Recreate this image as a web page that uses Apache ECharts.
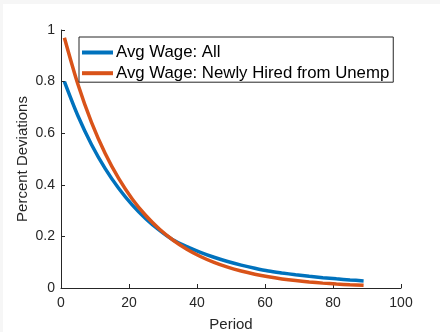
<!DOCTYPE html>
<html>
<head>
<meta charset="utf-8">
<script src="https://cdn.jsdelivr.net/npm/echarts@6/dist/echarts.min.js"></script>
<style>
html,body{margin:0;padding:0;background:#fff;}
#chart{width:440px;height:332px;}
</style>
</head>
<body>
<div id="chart"></div>
<script>
const periods = [1,5,9,13,17,21,25,29,33,37,41,45,49,53,57,61,65,69,73,77,81,85,89];
const avgWageAll = [0.800,0.6667,0.5555,0.4629,0.3858,0.3215,0.2679,0.2232,0.1860,0.1604,0.1384,0.1193,0.1029,0.0888,0.0766,0.0660,0.0583,0.0515,0.0455,0.0401,0.0354,0.0313,0.0276];
const avgWageNew = [0.970,0.7885,0.6410,0.5211,0.4236,0.3443,0.2799,0.2275,0.1850,0.1504,0.1222,0.0994,0.0808,0.0657,0.0534,0.0434,0.0353,0.0287,0.0233,0.0189,0.0154,0.0125,0.0102];
const seriesNames = ['Avg Wage: All','Avg Wage: Newly Hired from Unemp'];
const xTicks = [0,20,40,60,80,100];
const yTicks = [0,0.2,0.4,0.6,0.8,1];

const chart = echarts.init(document.getElementById('chart'));
const axisColor = '#262626';
const font = 'Liberation Sans, Arial, Helvetica, sans-serif';
function pairs(ys){ return periods.map((p,i)=>[p, ys[i]]); }

chart.setOption({
  backgroundColor:'#ffffff',
  animation:false,
  graphic:[
    {type:'rect', shape:{x:0,y:0,width:440,height:4}, style:{fill:'#f6f6f6'}, silent:true},
    {type:'rect', shape:{x:0,y:0,width:3,height:332}, style:{fill:'#f6f6f6'}, silent:true}
  ],
  grid:{left:61, top:30, width:340, height:258, containLabel:false, outerBoundsMode:'none'},
  legend:{
    orient:'vertical', left:79, top:37,
    padding:[6.5,4,0,3], itemGap:2.7,
    backgroundColor:'#ffffff', borderColor:'#262626', borderWidth:1,
    icon:'rect', itemWidth:31, itemHeight:4,
    textStyle:{fontFamily:font, fontSize:16.8, color:'#000', lineHeight:18, padding:[0,0,0,-2]},
    data:seriesNames
  },
  xAxis:{
    type:'value', min:xTicks[0], max:xTicks[xTicks.length-1], interval:20,
    name:'Period', nameLocation:'middle', nameGap:29, nameMoveOverlap:false,
    nameTextStyle:{fontFamily:font, fontSize:15, color:axisColor},
    axisLine:{show:true, onZero:false, lineStyle:{color:axisColor, width:1}},
    axisTick:{show:true, inside:true, length:4, lineStyle:{color:axisColor}},
    axisLabel:{fontFamily:font, fontSize:14, color:axisColor, margin:8},
    splitLine:{show:false}
  },
  yAxis:{
    type:'value', min:yTicks[0], max:yTicks[yTicks.length-1], interval:0.2,
    name:'Percent Deviations', nameLocation:'middle', nameGap:31, nameRotate:90, nameMoveOverlap:false,
    nameTextStyle:{fontFamily:font, fontSize:15, color:axisColor},
    axisLine:{show:true, onZero:false, lineStyle:{color:axisColor, width:1}},
    axisTick:{show:true, inside:true, length:4, lineStyle:{color:axisColor}},
    axisLabel:{fontFamily:font, fontSize:14, color:axisColor, margin:6},
    splitLine:{show:false}
  },
  series:[
    {name:seriesNames[0], type:'line', data:pairs(avgWageAll), smooth:0.3, showSymbol:false, symbol:'none',
     color:'#0072BD', lineStyle:{width:3.5, color:'#0072BD'}, z:2},
    {name:seriesNames[1], type:'line', data:pairs(avgWageNew), smooth:0.3, showSymbol:false, symbol:'none',
     color:'#D95319', lineStyle:{width:3.5, color:'#D95319'}, z:3}
  ]
});
</script>
</body>
</html>
